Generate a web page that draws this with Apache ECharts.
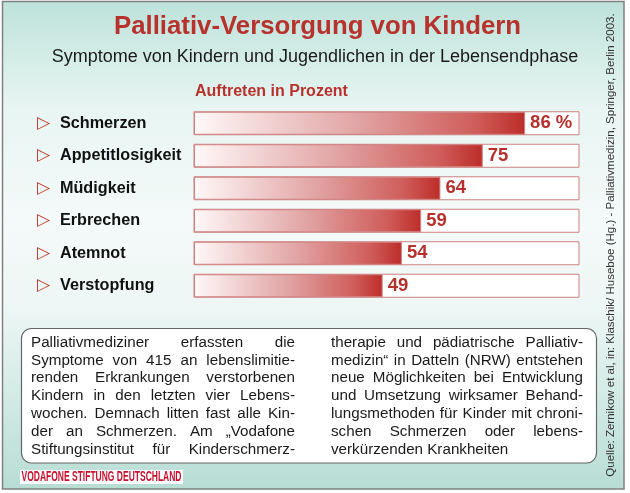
<!DOCTYPE html>
<html><head><meta charset="utf-8">
<script src="https://cdn.jsdelivr.net/npm/echarts@6/dist/echarts.min.js"></script>
<style>html,body{margin:0;padding:0;background:#fff}#c{width:630px;height:493px}</style>
</head><body><div id="c"></div>
<script>
// ---- data ----
const categories = ['Schmerzen','Appetitlosigkeit','Müdigkeit','Erbrechen','Atemnot','Verstopfung'];
const values = [86, 75, 64, 59, 54, 49];
const titleText = 'Palliativ-Versorgung von Kindern';
const subtitleText = 'Symptome von Kindern und Jugendlichen in der Lebensendphase';
const axisTitle = 'Auftreten in Prozent';
const sourceText = 'Quelle: Zernikow et al, in: Klaschik/ Huseboe (Hg.) - Palliativmedizin, Springer, Berlin 2003.';
const logoText = 'VODAFONE STIFTUNG DEUTSCHLAND';
const leftLines = [
  'Palliativmediziner erfassten die',
  'Symptome von 415 an lebenslimitie-',
  'renden Erkrankungen verstorbenen',
  'Kindern in den letzten vier Lebens-',
  'wochen. Demnach litten fast alle Kin-',
  'der an Schmerzen. Am \u201EVodafone',
  'Stiftungsinstitut für Kinderschmerz-'
];
const rightLines = [
  'therapie und pädiatrische Palliativ-',
  'medizin\u201C in Datteln (NRW) entstehen',
  'neue Möglichkeiten bei Entwicklung',
  'und Umsetzung wirksamer Behand-',
  'lungsmethoden für Kinder mit chroni-',
  'schen Schmerzen oder lebens-',
  'verkürzenden Krankheiten'
];

const FF = '"Liberation Sans", Arial, Helvetica, sans-serif';
const ctx = document.createElement('canvas').getContext('2d');
function measure(t, font){ ctx.font = font; return ctx.measureText(t).width; }

const graphics = [];
// background frame
graphics.push({
  type:'rect', z:-10, silent:true,
  shape:{x:2.5, y:1.5, width:621.5, height:487.5},
  style:{
    fill:new echarts.graphic.LinearGradient(0,0,0,1,[
      {offset:0, color:'#bde2da'},
      {offset:0.22, color:'#e8f5f2'},
      {offset:0.45, color:'#f4faf9'},
      {offset:0.62, color:'#eef7f5'},
      {offset:1, color:'#b7ddd5'}
    ]),
    stroke:'#808080', lineWidth:1.5
  }
});
graphics.push({type:'text', x:317.5, y:27, style:{text:titleText, fill:'#b8322d', font:'bold 25.8px '+FF, align:'center', verticalAlign:'middle'}});
graphics.push({type:'text', x:315, y:57, style:{text:subtitleText, fill:'#1a1a1a', font:'18px '+FF, align:'center', verticalAlign:'middle'}});
graphics.push({type:'text', x:195, y:92, style:{text:axisTitle, fill:'#b8322d', font:'bold 16px '+FF, align:'left', verticalAlign:'middle'}});
// source text (vertical)
graphics.push({type:'text', x:611, y:245, rotation:Math.PI/2, style:{text:sourceText, fill:'#333', font:'11.5px '+FF, align:'center', verticalAlign:'middle'}});
// text box
graphics.push({type:'rect', z:1, shape:{x:21.5, y:328.5, width:575, height:134.5, r:10}, style:{fill:'#fff', stroke:'#666', lineWidth:1.2}});
const PF = '15.2px ' + FF;
function addColumn(lines, x0, W, y0, lh, justifyLast){
  lines.forEach((line, i) => {
    const y = y0 + i*lh;
    const words = line.split(' ');
    const justify = i < lines.length - 1 || justifyLast;
    if (justify && words.length > 1) {
      const widths = words.map(w => measure(w, PF));
      const total = widths.reduce((a,b)=>a+b,0);
      const gap = (W - total) / (words.length - 1);
      let x = x0;
      words.forEach((w, k) => {
        graphics.push({type:'text', z:2, x:x, y:y, style:{text:w, fill:'#1a1a1a', font:PF, align:'left', verticalAlign:'middle'}});
        x += widths[k] + gap;
      });
    } else {
      graphics.push({type:'text', z:2, x:x0, y:y, style:{text:line, fill:'#1a1a1a', font:PF, align:'left', verticalAlign:'middle'}});
    }
  });
}
addColumn(leftLines, 31, 264, 342.5, 17.9, true);
addColumn(rightLines, 331, 252, 342.5, 17.9, false);
// logo
const LF = 'bold 14px "Liberation Sans Narrow", "Liberation Sans", Arial, sans-serif';
const lw = measure(logoText, LF);
graphics.push({type:'rect', z:1, shape:{x:20, y:470, width:163, height:14}, style:{fill:'#fff'}});
graphics.push({type:'text', z:2, x:21.5, y:477.5, scaleX:160/lw, style:{text:logoText, fill:'#c8102e', font:LF, align:'left', verticalAlign:'middle'}});

const chart = echarts.init(document.getElementById('c'), null, {renderer:'canvas'});
chart.setOption({
  animation:false,
  backgroundColor:'#fff',
  graphic: graphics,
  grid:{left:194, width:385, top:107, height:195, containLabel:false},
  xAxis:{type:'value', min:0, max:100, show:false},
  yAxis:{
    type:'category', data:categories, inverse:true,
    axisLine:{show:false}, axisTick:{show:false}, splitLine:{show:false},
    axisLabel:{
      align:'left', margin:157,
      formatter: v => '{t|\u25B7}{n|' + v + '}',
      rich:{
        t:{fontFamily:'"DejaVu Sans", sans-serif', fontSize:17, color:'#c0392b', width:23},
        n:{fontFamily:FF, fontSize:16.2, fontWeight:'bold', color:'#111'}
      }
    }
  },
  series:[{
    type:'bar', data:values, barWidth:23,
    showBackground:true,
    backgroundStyle:{color:'#fff', borderColor:'#cf8080', borderWidth:1},
    itemStyle:{
      color:new echarts.graphic.LinearGradient(0,0,1,0,[
        {offset:0, color:'#fff8f8'},
        {offset:0.5, color:'#e1a3a3'},
        {offset:0.85, color:'#cf5d5a'},
        {offset:1, color:'#bd2d29'}
      ]),
      borderColor:'#cf8080', borderWidth:1
    },
    label:{
      show:true, position:'right', distance:5,
      formatter: p => p.dataIndex === 0 ? p.value + ' %' : String(p.value),
      fontFamily:FF, fontSize:18.5, fontWeight:'bold', color:'#b8302c'
    }
  }]
});
</script></body></html>
